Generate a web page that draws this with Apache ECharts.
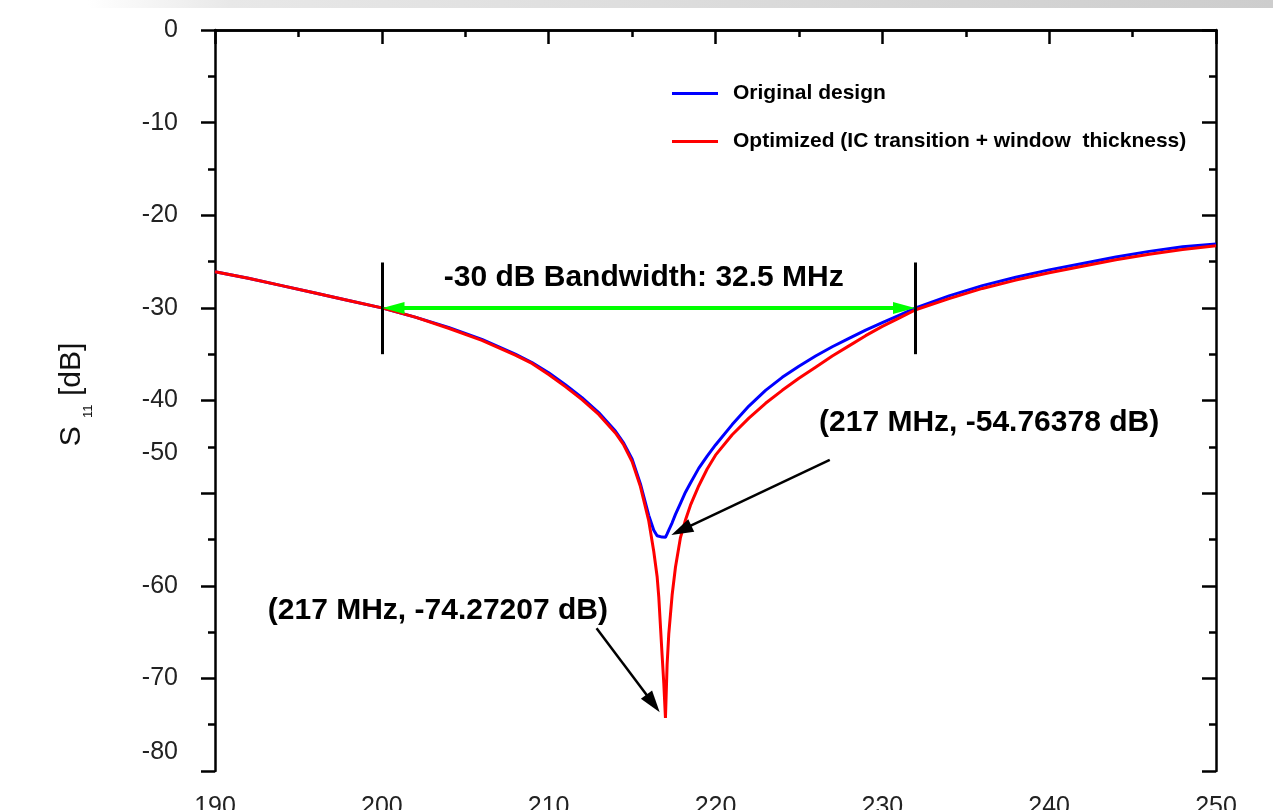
<!DOCTYPE html>
<html>
<head>
<meta charset="utf-8">
<title>S11 vs frequency</title>
<script src="https://cdn.jsdelivr.net/npm/echarts@6/dist/echarts.min.js"></script>
<style>
  html, body { margin: 0; padding: 0; background: #fff; }
  #chart { width: 1273px; height: 810px; }
</style>
</head>
<body>
<div id="chart"></div>
<script>
// frequency samples (MHz)
var freq = [190, 192, 194, 196, 198, 200, 202, 204, 206, 208, 209, 210, 211, 212, 213, 214, 214.5, 215, 215.5, 216,
  216.3, 216.5, 216.6, 216.8, 216.9, 217, 217.1, 217.2, 217.4, 217.6, 217.9, 218.2, 218.5, 219, 219.5, 220,
  221, 222, 223, 224, 225, 226, 227, 228, 229, 230, 231, 232, 234, 236, 238, 240, 242, 244, 246, 248, 250];

// S11 (dB)
var originalS11 = [-26.1, -26.8, -27.6, -28.4, -29.2, -30.0, -31.0, -32.1, -33.4, -35.0, -35.9, -37.0, -38.3, -39.7, -41.3, -43.3, -44.6, -46.3, -49.0, -52.4,
  -54.0, -54.6, -54.7, -54.75, -54.76, -54.76, -54.4, -54.0, -53.2, -52.3, -51.1, -49.9, -48.9, -47.3, -46.0, -44.8,
  -42.6, -40.6, -38.9, -37.5, -36.3, -35.2, -34.2, -33.3, -32.4, -31.6, -30.8, -30.0, -28.7, -27.6, -26.7, -25.9, -25.2, -24.5, -23.9, -23.4, -23.1];

var optimizedS11 = [-26.1, -26.8, -27.6, -28.4, -29.2, -30.0, -31.0, -32.2, -33.5, -35.1, -36.0, -37.2, -38.5, -39.9, -41.5, -43.5, -44.8, -46.6, -49.3, -53.0,
  -56.3, -59.0, -61.2, -67.5, -70.5, -74.27, -68.5, -65.2, -61.0, -58.0, -54.8, -52.9, -51.3, -49.2, -47.4, -45.9,
  -43.7, -41.9, -40.3, -38.9, -37.6, -36.4, -35.2, -34.1, -33.0, -32.0, -31.1, -30.2, -29.0, -27.9, -27.0, -26.2, -25.5, -24.8, -24.2, -23.7, -23.3];

var seriesNames = ['Original design', 'Optimized (IC transition + window  thickness)'];

// annotations
var bwEdges = [200, 232];
var bwLevel = -30;
var bwText = '-30 dB Bandwidth: 32.5 MHz';
var dipFreq = 217;
var dipOriginal = -54.76378;
var dipOptimized = -74.27207;

var font = '"Liberation Sans", Arial, Helvetica, sans-serif';

function pairs(xs, ys) {
  return xs.map(function (x, i) { return [x, ys[i]]; });
}

// labels that sit a little above their ticks in the original
var labelLift = { '-50': 80, '-80': 38 };

var chart = echarts.init(document.getElementById('chart'));

var tickLine = { color: '#000', width: 2.5 };
var arrowHead = [14, 22];

var option = {
  animation: false,
  backgroundColor: '#fff',
  textStyle: { fontFamily: font },
  graphic: [{
    type: 'rect', left: 88, top: 0, z: -10,
    shape: { width: 1185, height: 8 },
    style: {
      fill: new echarts.graphic.LinearGradient(0, 0, 1, 0, [
        { offset: 0, color: '#ffffff' },
        { offset: 0.12, color: '#e8e8e8' },
        { offset: 1, color: '#cdcdcd' }
      ])
    }
  }],
  grid: { left: 215, right: 57, top: 30, bottom: 39, containLabel: false, outerBoundsMode: 'none' },
  legend: {
    left: 667, top: 78, orient: 'vertical',
    icon: 'rect',
    itemWidth: 46, itemHeight: 3, itemGap: 27,
    textStyle: { fontFamily: font, fontSize: 21, fontWeight: 'bold', color: '#000', padding: [0, 0, 0, 10] },
    data: seriesNames
  },
  xAxis: [{
    type: 'value', min: 190, max: 250, interval: 10, position: 'bottom',
    axisLine: { lineStyle: tickLine },
    axisTick: { length: 14, lineStyle: tickLine },
    minorTick: { show: true, splitNumber: 2, length: 7, lineStyle: tickLine },
    splitLine: { show: false },
    axisLabel: { fontFamily: font, fontSize: 25, color: '#222', margin: 24 }
  }, {
    type: 'value', min: 190, max: 250, interval: 10, position: 'top',
    axisLine: { show: true, lineStyle: tickLine },
    axisTick: { inside: true, length: 14, lineStyle: tickLine },
    minorTick: { show: true, splitNumber: 2, length: 7, lineStyle: tickLine },
    splitLine: { show: false },
    axisLabel: { show: false }
  }],
  yAxis: [{
    type: 'value', min: -80, max: 0, interval: 10, position: 'left',
    name: '{s|S }{b|11}{a| [dB]}',
    nameLocation: 'middle', nameGap: 120, nameRotate: 90,
    nameTextStyle: {
      rich: {
        s: { fontFamily: font, fontSize: 30, color: '#111', padding: [0, 0, 0, 12] },
        a: { fontFamily: font, fontSize: 30, color: '#111' },
        b: { fontFamily: font, fontSize: 13, color: '#111', padding: [34, 0, 0, 0] }
      }
    },
    axisLine: { lineStyle: tickLine },
    axisTick: { length: 14, lineStyle: tickLine },
    minorTick: { show: true, splitNumber: 2, length: 7, lineStyle: tickLine },
    splitLine: { show: false },
    axisLabel: {
      fontFamily: font, fontSize: 25, color: '#222', margin: 37,
      formatter: function (v) {
        var s = String(v);
        return labelLift[s] ? '{lift' + (-v) + '|' + s + '}' : s;
      },
      rich: {
        lift50: { fontFamily: font, fontSize: 25, color: '#222', padding: [0, 0, labelLift['-50'], 0] },
        lift80: { fontFamily: font, fontSize: 25, color: '#222', padding: [0, 0, labelLift['-80'], 0] }
      }
    }
  }, {
    type: 'value', min: -80, max: 0, interval: 10, position: 'right',
    axisLine: { show: true, lineStyle: tickLine },
    axisTick: { inside: true, length: 14, lineStyle: tickLine },
    minorTick: { show: true, splitNumber: 2, length: 7, lineStyle: tickLine },
    splitLine: { show: false },
    axisLabel: { show: false }
  }],
  series: [{
    name: seriesNames[0],
    type: 'line',
    symbol: 'none',
    lineStyle: { color: '#0000ff', width: 3 },
    itemStyle: { color: '#0000ff' },
    data: pairs(freq, originalS11)
  }, {
    name: seriesNames[1],
    type: 'line',
    symbol: 'none',
    lineStyle: { color: '#ff0000', width: 3 },
    itemStyle: { color: '#ff0000' },
    data: pairs(freq, optimizedS11),
    markLine: {
      silent: true,
      symbol: ['none', 'none'],
      label: { show: false },
      lineStyle: { type: 'solid', color: '#000', width: 3 },
      data: [
        [{ coord: [bwEdges[0], -25.1] }, { coord: [bwEdges[0], -35] }],
        [{ coord: [bwEdges[1], -25.1] }, { coord: [bwEdges[1], -35] }],
        [{ coord: [bwEdges[0] + 0.7, bwLevel], symbol: 'triangle', symbolSize: [12, 22], lineStyle: { color: '#00ff00', width: 4 } },
         { coord: [bwEdges[1] - 0.7, bwLevel], symbol: 'triangle', symbolSize: [12, 22] }],
        [{ coord: [226.85, -46.4], lineStyle: { width: 2.5 } },
         { coord: [217.95, -54.0], symbol: 'triangle', symbolSize: arrowHead }],
        [{ coord: [212.87, -64.6], lineStyle: { width: 2.5 } },
         { coord: [216.26, -72.7], symbol: 'triangle', symbolSize: arrowHead }]
      ]
    },
    markPoint: {
      silent: true,
      symbol: 'circle',
      symbolSize: 1,
      itemStyle: { color: 'rgba(0,0,0,0)' },
      label: {
        show: true, position: 'inside',
        fontFamily: font, fontSize: 30, fontWeight: 'bold', color: '#000'
      },
      data: [
        { coord: [215.7, -26.7], label: { formatter: bwText } },
        { coord: [236.4, -42.4], label: { formatter: '(' + dipFreq + ' MHz, ' + dipOriginal.toFixed(5) + ' dB)' } },
        { coord: [203.36, -62.7], label: { formatter: '(' + dipFreq + ' MHz, ' + dipOptimized.toFixed(5) + ' dB)' } }
      ]
    }
  }]
};

chart.setOption(option);
</script>
</body>
</html>
